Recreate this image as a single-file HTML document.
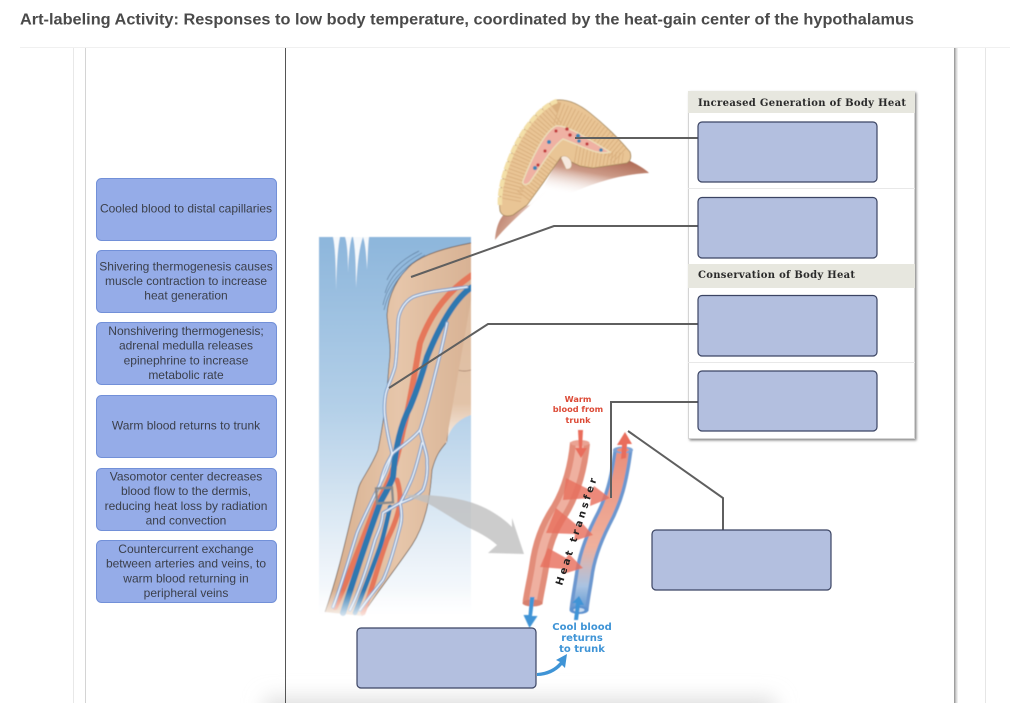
<!DOCTYPE html>
<html><head><meta charset="utf-8"><title>Art-labeling Activity</title>
<style>
html,body{margin:0;padding:0;background:#fff;width:1024px;height:703px;overflow:hidden}
svg{display:block}
.t{font-family:"Liberation Sans",Arial,sans-serif;font-size:12px;fill:#3b3f4a;text-anchor:middle}
.h{font-family:"DejaVu Serif",serif;font-weight:bold;font-size:10px;fill:#2a2a2a}
.w{font-family:"DejaVu Sans",sans-serif;font-weight:bold;font-size:8.2px;fill:#dc4a36;text-anchor:middle}
.c{font-family:"DejaVu Sans",sans-serif;font-weight:bold;font-size:10px;fill:#3f94d6;text-anchor:middle}
.tile{fill:#95ace8;stroke:#7290d8;stroke-width:1}
.drop{fill:#b3bfdf;stroke:#3b4463;stroke-width:1.2}
.ln{fill:none;stroke:#5f5f5f;stroke-width:2}
</style></head><body>
<svg width="1024" height="703" viewBox="0 0 1024 703" xmlns="http://www.w3.org/2000/svg">
<defs>
<linearGradient id="sky" x1="0" y1="0" x2="0" y2="1">
<stop offset="0" stop-color="#8db6dc"/><stop offset=".45" stop-color="#b4d0e8"/><stop offset=".8" stop-color="#e6eff7"/><stop offset="1" stop-color="#fff"/>
</linearGradient>
<linearGradient id="skin" x1="0" y1="0" x2="1" y2="0">
<stop offset="0" stop-color="#d6ad8d"/><stop offset=".5" stop-color="#e6c6aa"/><stop offset="1" stop-color="#d8b294"/>
</linearGradient>
<linearGradient id="torso" x1="0" y1="0" x2="0" y2="1">
<stop offset="0" stop-color="#dcb89b"/><stop offset=".8" stop-color="#e2c3a8"/><stop offset="1" stop-color="#f8f1ea"/>
</linearGradient>
<linearGradient id="fadeBottom" x1="0" y1="0" x2="0" y2="1">
<stop offset="0" stop-color="#fff" stop-opacity="0"/><stop offset="1" stop-color="#fff"/>
</linearGradient>
<linearGradient id="flesh" x1=".75" y1="0" x2=".45" y2=".75">
<stop offset="0" stop-color="#a9614c"/><stop offset=".45" stop-color="#cc9a87"/><stop offset="1" stop-color="#fff" stop-opacity="0"/>
</linearGradient>
<linearGradient id="flesh2" x1="0" y1="0" x2="1" y2=".6">
<stop offset="0" stop-color="#a9614c"/><stop offset=".5" stop-color="#cf9f8c"/><stop offset="1" stop-color="#fff" stop-opacity="0"/>
</linearGradient>
<linearGradient id="veinCore" x1="0" y1="0" x2="0" y2="1">
<stop offset="0" stop-color="#e88f7c"/><stop offset=".6" stop-color="#f0b09c"/><stop offset=".85" stop-color="#a9c3e2"/><stop offset="1" stop-color="#5f97d2"/>
</linearGradient>
<linearGradient id="rs" x1="0" y1="0" x2="1" y2="0">
<stop offset="0" stop-color="#8c8c8c"/><stop offset="1" stop-color="#ddd" stop-opacity=".3"/>
</linearGradient>
<filter id="b" x="-5%" y="-5%" width="110%" height="110%"><feGaussianBlur stdDeviation=".45"/></filter>
<filter id="b2" x="-10%" y="-200%" width="120%" height="500%"><feGaussianBlur stdDeviation="10"/></filter>
<filter id="sh" x="-5%" y="-5%" width="110%" height="110%"><feDropShadow dx="1.5" dy="1.5" stdDeviation="1.2" flood-color="#888"/></filter>
<clipPath id="armclip"><rect x="319" y="237" width="152" height="385"/></clipPath>
<clipPath id="wedge"><path d="M500 211 C498 195 503 170 514 148 C523 128 540 106 557 100 C568 99 580 105 590 113 C605 125 620 140 630 152 C632 158 630 161 627 163 L593 168 L580 166 L561 157 L543 183 L527 205 L513 215 C507 217 502 216 500 211Z"/></clipPath>
</defs>

<!-- page frame -->
<rect x="20" y="47" width="990" height="1" fill="#f0f0f0"/>
<rect x="73" y="48" width="1" height="655" fill="#e8e8e8"/>
<rect x="85" y="48" width="1" height="655" fill="#d4d4d4"/>
<rect x="954" y="48" width="4" height="655" fill="url(#rs)"/>
<rect x="985" y="48" width="1" height="655" fill="#e6e6e6"/>
<rect x="265" y="698" width="510" height="30" fill="#dedede" filter="url(#b2)"/>
<rect x="285" y="48" width="1" height="655" fill="#555"/>

<text x="20" y="24.500" font-family="Liberation Sans,Arial,sans-serif" font-weight="bold" font-size="16" fill="#4a4a4a" textLength="894" lengthAdjust="spacingAndGlyphs">Art-labeling Activity: Responses to low body temperature, coordinated by the heat-gain center of the hypothalamus</text>

<!-- tiles -->
<rect class="tile" x="96.5" y="178.5" width="180" height="62" rx="5"/>
<rect class="tile" x="96.5" y="250.5" width="180" height="62" rx="5"/>
<rect class="tile" x="96.5" y="322.5" width="180" height="62" rx="5"/>
<rect class="tile" x="96.5" y="395.5" width="180" height="62" rx="5"/>
<rect class="tile" x="96.5" y="468.5" width="180" height="62" rx="5"/>
<rect class="tile" x="96.5" y="540.5" width="180" height="62" rx="5"/>
<text class="t" x="186" y="212.5">Cooled blood to distal capillaries</text>
<text class="t" x="186" y="270.5">Shivering thermogenesis causes</text>
<text class="t" x="186" y="285">muscle contraction to increase</text>
<text class="t" x="186" y="299.5">heat generation</text>
<text class="t" x="186" y="335">Nonshivering thermogenesis;</text>
<text class="t" x="186" y="349.5">adrenal medulla releases</text>
<text class="t" x="186" y="364.5">epinephrine to increase</text>
<text class="t" x="186" y="379">metabolic rate</text>
<text class="t" x="186" y="429.5">Warm blood returns to trunk</text>
<text class="t" x="186" y="480.5">Vasomotor center decreases</text>
<text class="t" x="186" y="495">blood flow to the dermis,</text>
<text class="t" x="186" y="510">reducing heat loss by radiation</text>
<text class="t" x="186" y="524.5">and convection</text>
<text class="t" x="186" y="553">Countercurrent exchange</text>
<text class="t" x="186" y="567.5">between arteries and veins, to</text>
<text class="t" x="186" y="582.5">warm blood returning in</text>
<text class="t" x="186" y="597">peripheral veins</text>

<!-- legend panel -->
<rect x="688.5" y="91.5" width="226" height="347" fill="#fff" stroke="#d4d4d4" filter="url(#sh)"/>
<rect x="688" y="91" width="227" height="22" fill="#e7e7df"/>
<rect x="688" y="264" width="227" height="24" fill="#e7e7df"/>
<rect x="688" y="188" width="227" height="1" fill="#e8e8e8"/>
<rect x="688" y="362" width="227" height="1" fill="#e8e8e8"/>
<text class="h" x="698" y="106" textLength="208">Increased Generation of Body Heat</text>
<text class="h" x="698" y="278" textLength="157">Conservation of Body Heat</text>

<!-- skin fold illustration -->
<g filter="url(#b)">
<path d="M560 156 L628 160 C636 164 644 168 649 173 C620 174 590 184 565 196 C550 203 540 208 530 212Z" fill="url(#flesh)"/>
<path d="M495 240 C496 226 500 218 506 212 L530 205 L548 190 C530 205 510 222 495 240Z" fill="url(#flesh2)"/>
<path d="M500 211 C498 195 503 170 514 148 C523 128 540 106 557 100 C568 99 580 105 590 113 C605 125 620 140 630 152 C632 158 630 161 627 163 L593 168 L580 166 L561 157 L543 183 L527 205 L513 215 C507 217 502 216 500 211Z" fill="#e9c595" stroke="#9f8256" stroke-width=".8"/>
<g clip-path="url(#wedge)" fill="none" stroke="#d4a878" stroke-width="22" stroke-dasharray="1 2.6" opacity=".75">
<path d="M510 200 C516 168 532 132 557 113 C578 120 605 140 622 156"/>
<path d="M526 198 L556 158"/>
<path d="M575 156 L622 164" />
</g>
<path d="M500 205 C499 188 506 165 516 145 C526 125 542 106 557 101" fill="none" stroke="#f3dfa8" stroke-width="4.5" stroke-dasharray="8 1"/>
<path d="M523 181 C531 160 544 132 556 126 C566 124 590 140 610 152 C598 156 582 146 563 139 C552 147 542 165 530 182 C526 186 522 185 523 181Z" fill="#efb1a3" stroke="#ecdcb8" stroke-width="1.5"/>
<g fill="#c23a3e"><circle cx="567" cy="129" r="1.8"/><circle cx="570" cy="135" r="1.8"/><circle cx="545" cy="151" r="1.6"/><circle cx="538" cy="165" r="1.6"/><circle cx="587" cy="144" r="1.6"/><circle cx="556" cy="131" r="1.6"/></g>
<g fill="#3c84b4"><circle cx="578" cy="136" r="2.2"/><circle cx="549" cy="142" r="2"/><circle cx="535" cy="168" r="2"/><circle cx="579" cy="141" r="1.8"/><circle cx="601" cy="150" r="1.8"/><circle cx="570" cy="166" r="1.6"/></g>
<path d="M561 158 C562 155 568 155 571 161 C573 167 570 170 566 169Z" fill="#f6e9de" stroke="#c9a77e" stroke-width=".6"/>
</g>

<!-- arm panel -->
<g filter="url(#b)">
<g clip-path="url(#armclip)">
<rect x="319" y="237" width="152" height="385" fill="url(#sky)"/>
<!-- icicles -->
<path d="M333 237 Q336 250 336 291 Q337 250 340 237Z M345 237 Q348 245 348 273 Q349 245 352 237Z M353 237 Q356 250 356 288 Q358 250 363 237Z M363 237 Q366 245 367 270 Q368 245 369 237Z" fill="#f6f9fc"/>
<!-- torso -->
<path d="M471 243 C445 248 425 252 415 265 L400 300 L425 380 L446 443 C450 425 462 418 471 415Z" fill="url(#torso)"/>
<path d="M438 380 C446 395 451 415 447 443 C443 425 440 405 438 380Z" fill="#a9866d"/>
<path d="M445 362 C455 372 465 372 471 370 M451 350 C453 356 451 362 446 366" fill="none" stroke="#a98670" stroke-width=".8"/>
<!-- arm -->
<path d="M471 243 C445 248 425 254 412 264 C398 276 388 295 387 315 C388 335 392 345 389 365 C387 390 386 410 378 450 C370 470 360 480 358 490 C350 520 340 570 325 612 L362 616 C375 595 395 570 412 545 C425 525 430 500 432 470 C436 455 440 450 446 443 L471 300Z" fill="url(#skin)"/>
<path d="M471 243 C445 248 425 254 412 264 C398 276 388 295 387 315 C388 335 392 345 389 365 C387 390 386 410 378 450 C370 470 360 480 358 490 C350 520 340 570 325 612 M362 616 C375 595 395 570 412 545 C425 525 430 500 432 470 C436 455 440 450 446 443" fill="none" stroke="#5d4a3c" stroke-width=".7"/>
<!-- vessels -->
<g fill="none" stroke-linecap="round" stroke-linejoin="round">
<path d="M472 275 C450 290 432 310 420 343 C415 370 410 405 403 430 C398 455 392 480 377 503 C368 525 352 570 335 607" stroke="#e5775a" stroke-width="6"/>
<path d="M397 480 C402 495 402 510 387 540 C378 565 372 590 363 613" stroke="#e5775a" stroke-width="5"/>
<path d="M472 287 C455 298 440 325 427 357 C422 375 415 395 410 407 C403 420 396 440 393 477 C388 490 384 495 380 503 C372 525 355 575 343 613" stroke="#2f78b0" stroke-width="6"/>
<path d="M390 507 C386 525 384 535 380 547 C372 570 362 595 355 613" stroke="#2f78b0" stroke-width="4.5"/>
<g stroke="#7299c8" stroke-width="3.4">
<path id="v1" d="M467 287 C445 290 425 292 413 297 C402 303 398 315 398 323 C397 345 397 355 395 367 C392 378 388 385 388 387 C384 395 384 410 385 417 C387 432 390 445 392 453 C388 470 382 480 377 490 C370 505 360 525 357 533 C350 555 340 590 333 607"/>
<path id="v2" d="M447 323 C443 345 436 370 433 383 C430 395 425 415 420 430 C423 445 428 455 427 463 C428 475 425 485 423 490 C415 498 407 500 400 503 C393 507 388 510 383 513 C382 525 378 532 375 540 C368 565 358 595 350 610"/>
<path id="v3" d="M420 430 C412 440 400 447 393 453 C385 465 382 475 380 485"/>
<path id="v4" d="M422 443 C418 460 414 475 410 483 C406 492 403 498 400 503 C402 512 402 520 400 527 C395 545 390 565 383 580 C375 590 367 600 360 610"/>
</g>
<g stroke="#e8f0f9" stroke-width="1.5">
<use href="#v1"/><use href="#v2"/><use href="#v3"/><use href="#v4"/>
</g>
</g>
<!-- shiver marks -->
<g fill="none" stroke="#5e7d9e" stroke-width=".7">
<path d="M387 280 C392 268 405 258 419 251"/>
<path d="M385 293 C390 275 405 262 422 253"/>
<path d="M383 305 C387 285 402 268 425 255"/>
<path d="M384 310 C388 292 398 278 408 268"/>
</g>
</g>
<path d="M319 590 H471 V622 H319Z" fill="url(#fadeBottom)"/>
<rect x="376.5" y="488" width="16" height="15" fill="none" stroke="#8a8a8a" stroke-width="2.4" transform="rotate(-4 384 495)"/>
<!-- big gray arrow -->
<path d="M403 495 C430 494 455 497 473 503 C488 508 502 517 512 527 L512 518 L524 554 L488 553 L497 545 C488 537 478 532 467 527 C452 518 440 510 427 503Z" fill="#bfbfbf" opacity=".8"/>
</g>

<!-- vessels detail -->
<g filter="url(#b)">
<!-- artery -->
<path d="M580 443 C578 465 572 490 560 510 C548 528 542 545 539 567 C537 580 534 592 532.5 603" fill="none" stroke="#e28d7a" stroke-width="20"/>
<path d="M580 443 C578 465 572 490 560 510 C548 528 542 545 539 567 C537 580 534 592 532.5 603" fill="none" stroke="#efb0a0" stroke-width="8"/>
<ellipse cx="532.5" cy="603" rx="10" ry="3.5" fill="#d7806e"/>
<ellipse cx="580" cy="443" rx="9.500" ry="3" fill="#eaa393"/>
<!-- vein -->
<path d="M623 450 C619 480 614 500 602 522 C592 542 586 560 584 577 C582 590 580 600 579 610" fill="none" stroke="#6c97cf" stroke-width="19"/>
<path d="M623 450 C619 480 614 500 602 522 C592 542 586 560 584 577 C582 590 580 600 579 610" fill="none" stroke="url(#veinCore)" stroke-width="12"/>
<ellipse cx="623" cy="450" rx="10" ry="3.5" fill="#7aa2d4"/>
<ellipse cx="623" cy="450" rx="6" ry="2" fill="#e88f7c"/>
<ellipse cx="579" cy="610" rx="9.5" ry="4" fill="#5d92cf"/>
<ellipse cx="579" cy="610" rx="5.5" ry="2" fill="#c9dcf0"/>
<!-- heat transfer arrows -->
<g fill="#e8705e" opacity=".82">
<path d="M566 478 L592 491 L594 486 L610 498 L590 506 L591 498 L563 500Z"/>
<path d="M556 508 L578 526 L581 522 L593 535 L574 541 L575 534 L546 533Z"/>
<path d="M548 548 L566 558 L569 554 L583 568 L563 574 L564 569 L540 567Z"/>
</g>
<g fill="#e96d5b">
<path d="M578 430 h5 l-1 18 h5 l-6 10 l-6 -10 h4Z"/>
<path d="M621 459 l1 -14 h-5 l8 -13 l7 12 h-5 l-1 14Z"/>
</g>
<g fill="#3f94d6">
<path d="M530 597 h4.5 l-2.5 19 h5.5 l-8 12 l-6 -13 h5Z"/>
<path d="M574 620 l2 -17 h-4 l7 -7 l5 9 h-4 l-2 15Z" />
</g>
</g>
<path d="M537 673 C548 672 555 668 560 662 L556 660 L567 654 L565 668 L562 665 C556 672 547 676 537 676Z" fill="#3f94d6"/>

<text x="0" y="0" transform="translate(562,586) rotate(-72)" font-family="DejaVu Sans,sans-serif" font-weight="bold" font-size="10" fill="#222" textLength="112">Heat transfer</text>

<text class="w" x="578" y="402">Warm</text>
<text class="w" x="578" y="412">blood from</text>
<text class="w" x="578" y="423">trunk</text>
<text class="c" x="582" y="630">Cool blood</text>
<text class="c" x="582" y="641">returns</text>
<text class="c" x="582" y="652">to trunk</text>

<!-- connectors -->
<path class="ln" d="M575 138 H698"/>
<path class="ln" d="M411 277 L554 226 H698" stroke-width="1.6"/>
<path class="ln" d="M389 388 L488 324 H698"/>
<path class="ln" d="M611 498 V402 H698"/>
<path class="ln" d="M628 431 L723 498 V530"/>

<!-- drop zones -->
<rect class="drop" x="698" y="122" width="179" height="60" rx="4"/>
<rect class="drop" x="698" y="197.500" width="179" height="60.500" rx="4"/>
<rect class="drop" x="698" y="295.500" width="179" height="60.500" rx="4"/>
<rect class="drop" x="698" y="371" width="179" height="60" rx="4"/>
<rect class="drop" x="652" y="530" width="179" height="60" rx="4"/>
<rect class="drop" x="357" y="628" width="179" height="60" rx="4"/>
</svg>
</body></html>
